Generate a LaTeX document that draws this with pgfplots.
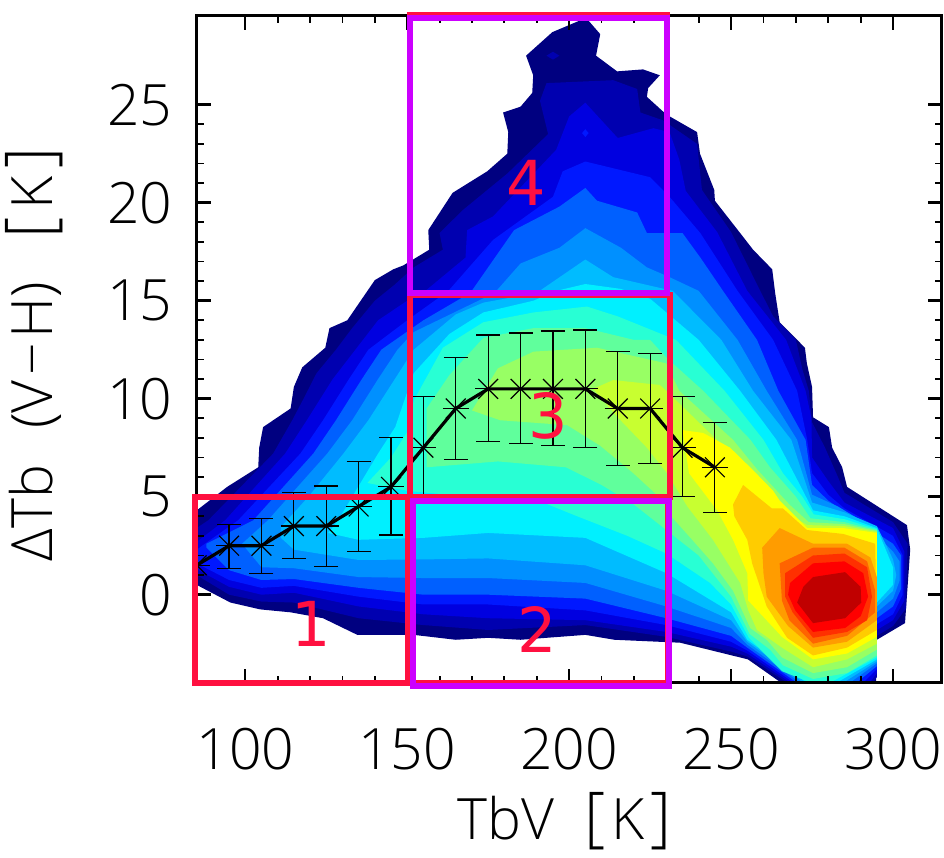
\documentclass[border=0pt]{standalone}
\usepackage{fontspec}
\setmainfont{Open Sans Light}
\newfontfamily\annot{DejaVu Sans}
\usepackage{pgfplots}
\usepackage{pgfplotstable}
\pgfplotsset{compat=1.18}

\definecolor{lA}{HTML}{000080}
\definecolor{lB}{HTML}{0000B0}
\definecolor{lC}{HTML}{0000E0}
\definecolor{lD}{HTML}{0018FF}
\definecolor{lE}{HTML}{0060FF}
\definecolor{lF}{HTML}{0090FF}
\definecolor{lG}{HTML}{00BCFF}
\definecolor{lH}{HTML}{00F0FF}
\definecolor{lI}{HTML}{28FFD4}
\definecolor{lJ}{HTML}{60FF9C}
\definecolor{lK}{HTML}{98FF64}
\definecolor{lL}{HTML}{C8FF30}
\definecolor{lM}{HTML}{FFFF00}
\definecolor{lN}{HTML}{FFCC00}
\definecolor{lO}{HTML}{FF9C00}
\definecolor{lP}{HTML}{FF6400}
\definecolor{lQ}{HTML}{FF3000}
\definecolor{lR}{HTML}{FF0000}
\definecolor{lS}{HTML}{C00000}
\definecolor{boxred}{HTML}{FF1040}
\definecolor{boxpur}{HTML}{CC00FF}

% median and spread per TbV bin
\pgfplotstableread{
x y hi lo
85 1.5 1.5 1.5
95 2.5 3.6 1.35
105 2.5 3.9 1.1
115 3.5 5.2 1.85
125 3.5 5.55 1.45
135 4.5 6.8 2.2
145 5.5 8.0 3.05
155 7.5 10.1 4.9
165 9.5 12.1 6.9
175 10.5 13.25 7.8
185 10.5 13.35 7.7
195 10.5 13.45 7.6
205 10.5 13.5 7.5
215 9.5 12.4 6.6
225 9.5 12.3 6.7
235 7.5 10.1 5.0
245 6.5 8.8 4.2
}\medtab

\newcommand{\lblfont}{\fontsize{57}{57}\selectfont}
\newcommand{\brk}[1]{{\fontsize{66}{66}\selectfont #1}}

\pgfplotsset{
  common/.style={
    scale only axis, width=744.9pt, height=666.8pt,
    at={(0pt,0pt)}, anchor=south west,
    xmin=85, xmax=315, ymin=-4.48, ymax=29.54,
  },
  lev/.style={fill=#1, draw=none, mark=none, forget plot},
  box/.style={draw=#1, fill=none, mark=none, line width=6pt, line join=miter, forget plot},
}

\begin{document}
\begin{tikzpicture}
\path[use as bounding box] (-196.7pt,-174.5pt) rectangle (747.3pt,682.5pt);

% filled contours, outermost first
\begin{axis}[common, hide axis]
\addplot[lev=lA] coordinates {(85,4.3)(94.4,5.5)(104,6.5)(104.3,7.5)(105.5,8.55)(114,9.5)(115,10.6)(117.6,11.6)(124.7,12.6)(126,13.6)(131.5,14)(140,16.05)(145.7,16.6)(148.8,16.8)(156.8,17.6)(156.5,18.6)(164,20.5)(174.7,21.6)(180.9,22.5)(181.2,23.6)(179.6,24.6)(185,24.9)(188.6,25.6)(188.9,26.5)(186.7,27.5)(194.8,28.7)(203.4,29.3)(205.9,29.3)(209.6,28.6)(208.3,27.5)(214.8,26.7)(222.8,26.8)(228,26.5)(224.4,25.85)(224,25.4)(230,24.5)(239.5,23.6)(240.4,22.5)(244.8,20.65)(245,20.1)(252.8,18.45)(256.8,17.6)(262.7,16.6)(263.6,15.4)(265,13.9)(272.8,12.6)(273.4,11.8)(275,10.6)(275.3,9.05)(280.2,8.55)(281.2,7.5)(284.3,6.5)(285.8,5.5)(304.3,3.55)(305.3,2.3)(303.7,-1.45)(295,-2.3)(294.8,-4.45)(265.1,-4.45)(255.2,-3.3)(234.3,-2.45)(214,-2.3)(205,-2.05)(185,-2.3)(175,-2.2)(165,-2.3)(152,-2.05)(134.6,-2.05)(124,-1.2)(114,-0.9)(104.6,-0.75)(95.4,-0.4)(85,0.5)} --cycle;
\addplot[lev=lB] coordinates {(193,27.5)(195,27.7)(197,27.5)(195,27.3)} --cycle;
\addplot[lev=lB] coordinates {(85,3.4)(88.6,3.8)(108.6,7.2)(114.5,8.9)(118,10)(122,11.3)(128,12.5)(133,13.6)(140,15)(146,15.8)(152,16.7)(161,17.6)(160,18.45)(167,19.6)(181,21.5)(193.5,23.5)(191,25.2)(193,26.1)(213.6,26.25)(221,25.8)(222,24.6)(229,24.2)(239.5,23)(241,20.65)(250,18.5)(259,15.5)(263,14.2)(270,13)(272,11.5)(274,10.4)(275,8.8)(279,7.5)(283,6)(285,5.2)(300,3.7)(304.5,2.6)(304,-0.7)(300,-1.6)(295,-2.1)(295,-4.2)(294,-4.45)(267,-4.45)(255,-3.15)(250,-2.9)(230,-2.15)(205,-1.55)(175,-1.8)(155,-1.55)(135,-1.2)(115,-0.4)(105,-0.35)(95,0)(85,1)} --cycle;
\addplot[lev=lC] coordinates {(85,2.7)(93.8,3.8)(112.3,7.2)(119,8.9)(127,11)(134,12.5)(141,14)(150,15)(155.6,15.5)(168,17.2)(168.5,18.6)(176.5,19.3)(196,22.7)(200,24.4)(205,25.1)(215,23.3)(226,23.8)(231,23.6)(234,22.2)(236,20.6)(245.7,18.5)(255,15.5)(267,13)(273,10.4)(274.8,9)(275,7)(280,5.8)(285,4.7)(300,3.4)(303.5,2.2)(303.5,-0.3)(300,-1.3)(295,-1.8)(295,-4)(293,-4.45)(268,-4.45)(255,-3)(250,-2.65)(230,-1.9)(205,-1.3)(175,-1.2)(155,-1)(135,-0.6)(115,0.1)(105,0)(95,0.4)(85,1.3)} --cycle;
\addplot[lev=lD] coordinates {(204,23.55)(205,23.75)(206,23.55)(205,23.35)} --cycle;
\addplot[lev=lD] coordinates {(85,2.3)(97.8,3.8)(117,7.2)(124,8.9)(132,11)(138,12.5)(150,14)(162.7,15.5)(176.5,18.1)(195,20.3)(198,21.6)(205,22.1)(225,21.3)(231,20.3)(240.5,18.45)(252,15.5)(263,13)(270.4,10.4)(273.5,7.9)(275,6.2)(280,5.1)(285,4.4)(300,3)(303,2)(303,0)(300,-1)(295,-1.5)(295,-3.8)(291,-4.45)(269,-4.45)(255,-2.85)(250,-2.4)(230,-1.55)(205,-0.8)(175,-0.5)(155,-0.5)(135,-0.1)(115,0.45)(105,0.35)(95,0.75)(85,1.6)} --cycle;
\addplot[lev=lE] coordinates {(88,2.4)(88,2.6)(102.5,3.8)(121,7.2)(128,8.9)(136,11)(142,12.5)(155,14)(169.5,15.4)(183,18.6)(197,19.8)(205,20.75)(208.6,20.1)(221,19.5)(224,18.45)(235,18.45)(240.5,17.2)(247.5,15.5)(258,13)(264.6,10.4)(273,7.9)(275,5.6)(280,4.8)(287,4)(300,2.6)(302.5,2)(302.5,0.3)(300,-0.6)(295,-1.2)(295,-3.65)(289,-4.45)(270,-4.45)(255,-2.7)(250,-2.1)(230,-1.2)(205,-0.2)(175,0)(155,0)(135,0.35)(115,0.8)(105,0.75)(95,1.25)} --cycle;
\addplot[lev=lF] coordinates {(99,2.6)(107,3.8)(125.3,7.2)(133,8.9)(141,11)(147,12.5)(152,13.4)(177,15.4)(185,16.9)(197,17.7)(205,18.7)(216,17.7)(224,16.7)(231,16.2)(240,15.5)(252,13)(261,10.4)(270.4,7.9)(275,5.1)(283,4.5)(290,3.8)(300,2.2)(302,1.7)(302,0.7)(300,-0.2)(295,-0.9)(295,-3.5)(287,-4.45)(271,-4.45)(255,-2.55)(250,-1.7)(230,-0.6)(205,0.6)(175,0.85)(155,0.85)(135,0.9)(115,1.35)(105,1.4)} --cycle;
\addplot[lev=lG] coordinates {(111,2.9)(111,3.45)(119.5,5)(130.3,7.2)(138,8.9)(152,12.5)(165,14.3)(173.5,14.9)(190,15.4)(205,17.1)(213.6,16.2)(232,15.5)(247,13)(256.8,10.4)(268.6,7.9)(275,4.7)(285,4.2)(295,3.5)(300,1.8)(301,1)(300,0.2)(295,-0.6)(295,-3.4)(285,-4.45)(272,-4.45)(255,-2.4)(250,-1.3)(230,0.2)(205,1.5)(175,1.85)(155,1.8)(135,1.77)(115,2.3)} --cycle;
\addplot[lev=lH] coordinates {(125.6,3.15)(128.7,3.8)(141,7.2)(146.3,8.55)(152,11.3)(163,13.3)(173.5,14.4)(189,15)(196,15.5)(205,15.85)(216,15.6)(225,15.1)(240,13)(252.8,10.4)(264,7.9)(270,6)(275.3,4.3)(285,4)(295,3.4)(300,1.4)(300,0.5)(295,-0.4)(295,-3.3)(283,-4.45)(273,-4.45)(255,-2.3)(250,-0.9)(230,1.1)(205,2.9)(175,3.15)(155,2.9)(135,2.8)} --cycle;
\addplot[lev=lI] coordinates {(137.7,5.7)(145,7)(150,8.3)(152,9.9)(161,12.6)(173.5,13.9)(189,14.4)(205.5,14.7)(215,14.2)(233,13)(248,10.4)(260,7.9)(266,6.2)(272,5)(275.5,4.1)(285,3.85)(295,3.35)(295,-3.2)(281,-4.45)(274,-4.45)(265.7,-3.9)(255.5,-2.2)(250,-0.5)(243.5,0.6)(230,2.1)(218,3)(202.5,4)(192,4.7)(175,4.9)(150,5.3)} --cycle;
\addplot[lev=lJ] coordinates {(156,6.5)(156,9.5)(163,11.2)(173.5,13.1)(189,13.6)(205,13.6)(220,13)(225,13)(230,12.1)(241.4,10.4)(256,7.9)(262,6.5)(270,5)(274.5,3.9)(285,3.7)(295,3.3)(295,-3.1)(285.8,-4)(275.3,-4.3)(266,-3.6)(262,-2.8)(255.7,-2)(250,-0.1)(240,2)(230,3.3)(220,4.6)(210,5.6)(199,6.5)(178,6.8)} --cycle;
\addplot[lev=lK] coordinates {(170,9.4)(178,11.55)(189,12.4)(208.6,12.6)(230,11.8)(234,10.4)(250.6,7.9)(258,6.4)(268,4.6)(274,3.7)(285,3.6)(295,3.25)(295,-2.8)(285.8,-3.7)(275.3,-4)(265.7,-3.2)(261,-2.3)(255.9,-1.7)(250.6,0.2)(244.4,1.6)(238,2.8)(231.5,4)(229,4.8)(219.8,6.2)(209.6,7.6)(199.4,8.65)(178.7,8.9)} --cycle;
\addplot[lev=lL] coordinates {(207.4,10.5)(213.6,10.95)(228,10.7)(230,10.4)(245.6,7.9)(253,6.6)(262,5.2)(270,3.9)(273.5,3.55)(285,3.5)(295,3.2)(295,-2.5)(285.8,-3.3)(275.3,-3.7)(265.7,-2.7)(258,-1.8)(255.3,-0.8)(252.8,0.6)(244.4,2.8)(236.5,4.5)(230.2,6.2)(224,7.5)(215,9.05)} --cycle;
\addplot[lev=lM] coordinates {(235,8.4)(241.4,8.25)(249.7,7.5)(256.8,6.35)(263,5.3)(265,4.8)(273.5,3.4)(284.6,3.4)(295,3.15)(295,-2.15)(285.8,-3)(275.3,-3.3)(265.7,-2.15)(255.3,-0.3)(255,1.1)(250.6,2.8)(245.7,4.3)(237,6.2)} --cycle;
\addplot[lev=lN] coordinates {(253.7,5.6)(262.6,4.4)(266,4.4)(273.4,3.3)(284.6,3.1)(294.5,2.6)(295,-1.8)(285.8,-2.7)(275.3,-3.1)(267.3,-2.2)(261,-0.6)(256.5,1.6)(255,2.8)(251,4)(250.6,4.6)} --cycle;
\addplot[lev=lO] coordinates {(265,3.4)(275.3,2.6)(285.8,2.6)(293,1.9)(295,0.9)(295,-1.3)(285.8,-2.4)(275.3,-2.7)(267.6,-1.6)(261,-0.1)(260,1.1)(259.6,2.4)} --cycle;
\addplot[lev=lP] coordinates {(265,1.6)(275.3,2.4)(285,2.4)(292,1.7)(294.5,0.2)(294.5,-0.9)(285.8,-2.1)(275.3,-2.5)(268,-1.3)(265.7,-0.3)} --cycle;
\addplot[lev=lQ] coordinates {(266.7,1.1)(275.3,2)(285,2.1)(292,1.4)(293.5,-0.1)(292,-1.3)(285.8,-1.9)(275.3,-2.2)(269,-0.9)(266.7,-0.1)} --cycle;
\addplot[lev=lR] coordinates {(275.3,1.6)(285,1.7)(290.8,1.1)(292.3,-0.1)(290,-1.1)(285.2,-1.7)(275.3,-1.9)(269.8,-0.8)(267.6,0)(268.2,0.6)} --cycle;
\addplot[lev=lS] coordinates {(275.3,0.9)(285.2,1.15)(290,0.4)(290.2,-0.4)(285.2,-1.2)(275.3,-1.45)(270.4,-0.4)(272.3,0.4)} --cycle;
\end{axis}

% frame, ticks, median line with spread
\begin{axis}[common,
  clip marker paths=true,
  axis line style={line width=3pt},
  xtick={100,150,200,250,300}, ytick={0,5,10,15,20,25},
  minor x tick num=4, minor y tick num=4,
  major tick length=14pt, minor tick length=7pt,
  major tick style={black, line width=2.4pt},
  minor tick style={black, line width=1.8pt},
  tick pos=both, tick align=inside,
  /pgf/number format/assume math mode=true,
  tick label style={font=\lblfont, inner sep=0pt},
  xticklabel style={yshift=-45pt},
  yticklabel style={xshift=-24pt},
  xlabel={TbV\hspace{30pt}\brk{[}\hspace{6pt}K\hspace{6pt}\brk{]}},
  ylabel={\char"0394 Tb\hspace{36pt}(V\hspace{5pt}\char"2212\hspace{4pt}H)\hspace{44pt}\brk{[}\hspace{8pt}K\hspace{8pt}\brk{]}},
  every axis x label/.style={at={(axis description cs:0.494,-0.235)}, anchor=base, font=\lblfont, inner sep=0pt},
  every axis y label/.style={at={(axis description cs:-0.193,0.4925)}, anchor=base, rotate=90, font=\lblfont, inner sep=0pt},
]
\addplot[black, line width=0.9pt, mark=none, draw=none,
  error bars/.cd, y dir=both, y explicit,
  error bar style={line width=1.2pt, black}, error mark options={rotate=90, mark size=12pt, line width=1.2pt}]
  table[x=x, y=y, y error plus expr=\thisrow{hi}-\thisrow{y}, y error minus expr=\thisrow{y}-\thisrow{lo}] {\medtab};
\addplot[black, line width=3.2pt, mark=none] table[x=x, y=y] {\medtab};
\addplot[draw=none, mark=x, mark size=14pt, mark options={black, line width=1.2pt, solid}] table[x=x, y=y] {\medtab};
\addplot[draw=none, mark=+, mark size=13pt, mark options={black, line width=1.2pt, solid}] table[x=x, y=y] {\medtab};
\end{axis}

% the four numbered boxes, over the frame
\begin{axis}[common, hide axis, clip=false]
\addplot[box=boxred] coordinates {(84.6,4.98)(150.3,4.98)(150.3,-4.5)(84.6,-4.5)} --cycle;
\addplot[box=boxred] coordinates {(150.9,4.98)(230.6,4.98)(230.6,-4.53)(150.9,-4.53)} --cycle;
\addplot[box=boxred] coordinates {(150.9,15.3)(231,15.3)(231,4.96)(150.9,4.96)} --cycle;
\addplot[box=boxred] coordinates {(150.9,29.55)(230.2,29.55)(230.2,15.4)(150.9,15.4)} --cycle;
\addplot[box=boxpur] coordinates {(151.9,4.8)(230.7,4.8)(230.7,-4.66)(151.9,-4.66)} --cycle;
\addplot[box=boxpur] coordinates {(150.8,29.4)(230.2,29.4)(230.2,15.37)(150.8,15.37)} --cycle;
\node[boxred, font=\annot\fontsize{62}{62}\selectfont, inner sep=0pt] at (axis cs:120.4,-1.5) {1};
\node[boxred, font=\annot\fontsize{62}{62}\selectfont, inner sep=0pt] at (axis cs:190.1,-1.75) {2};
\node[boxred, font=\annot\fontsize{62}{62}\selectfont, inner sep=0pt] at (axis cs:193.5,9.14) {3};
\node[boxred, font=\annot\fontsize{62}{62}\selectfont, inner sep=0pt] at (axis cs:186.7,21) {4};
\end{axis}
\end{tikzpicture}
\end{document}
